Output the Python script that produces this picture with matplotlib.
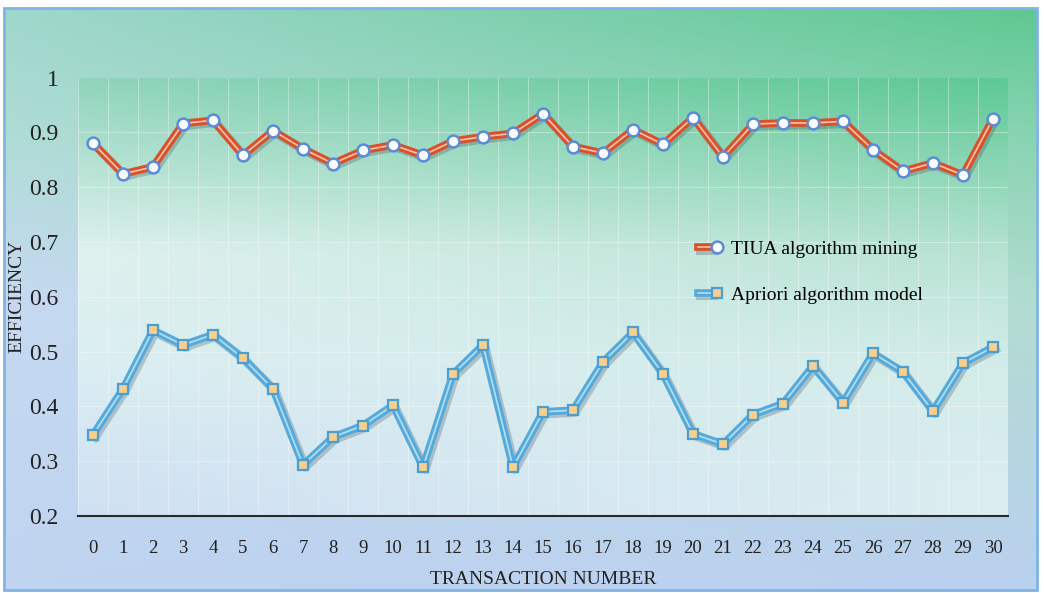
import numpy as np
import matplotlib
matplotlib.use("Agg")
import matplotlib.pyplot as plt
import matplotlib.patheffects as pe
from matplotlib.colors import to_rgb
from matplotlib.patches import FancyBboxPatch
from matplotlib.legend_handler import HandlerTuple

plt.rcParams["font.family"] = ["Liberation Serif", "DejaVu Serif"]

# データ
transactions = list(range(31))
tiua = [0.880, 0.824, 0.837, 0.916, 0.922, 0.858, 0.903, 0.870, 0.843, 0.867,
        0.877, 0.858, 0.884, 0.892, 0.898, 0.934, 0.874, 0.862, 0.905, 0.878,
        0.927, 0.855, 0.915, 0.917, 0.917, 0.920, 0.868, 0.829, 0.844, 0.822,
        0.925]
apriori = [0.348, 0.432, 0.539, 0.512, 0.531, 0.488, 0.432, 0.293, 0.344, 0.365,
           0.402, 0.289, 0.459, 0.512, 0.289, 0.390, 0.393, 0.481, 0.535, 0.459,
           0.350, 0.331, 0.385, 0.405, 0.474, 0.407, 0.497, 0.463, 0.391, 0.479,
           0.508]
y_ticks = [0.2, 0.3, 0.4, 0.5, 0.6, 0.7, 0.8, 0.9, 1.0]
y_ticklabels = ["0.2", "0.3", "0.4", "0.5", "0.6", "0.7", "0.8", "0.9", "1"]

W, H = 1044, 593


def gradient(rows, nx=200, ny=200):
    """rows: [(y, left_color, right_color), ...] y は 0 (下) 〜 1 (上)。"""
    ys = np.array([r[0] for r in rows])
    left = np.array([to_rgb(r[1]) for r in rows])
    right = np.array([to_rgb(r[2]) for r in rows])
    yy = np.linspace(1, 0, ny)
    xx = np.linspace(0, 1, nx)
    img = np.zeros((ny, nx, 3))
    for c in range(3):
        lc = np.interp(yy, ys, left[:, c])
        rc = np.interp(yy, ys, right[:, c])
        img[:, :, c] = lc[:, None] * (1 - xx[None, :]) + rc[:, None] * xx[None, :]
    return img


fig = plt.figure(figsize=(W / 100, H / 100), dpi=100)
fig.patch.set_facecolor("white")

# 外枠の背景
bx0, by0, bx1, by1 = 4, 3, 1037, 585   # pixels from bottom-left
ax_bg = fig.add_axes([bx0 / W, by0 / H, (bx1 - bx0) / W, (by1 - by0) / H], zorder=0)
ax_bg.imshow(gradient([(0.0, "#c0d4f1", "#bad0ef"),
                       (0.5, "#c6d9f2", "#b2dcd0"),
                       (0.78, "#b0dcd6", "#88d4b2"),
                       (1.0, "#9fd7cc", "#5ec891")]),
             extent=[0, 1, 0, 1], aspect="auto", interpolation="bilinear")
ax_bg.set_xlim(0, 1)
ax_bg.set_ylim(0, 1)
ax_bg.axis("off")
fig.patches.append(FancyBboxPatch((bx0 / W, by0 / H), (bx1 - bx0) / W, (by1 - by0) / H,
                                  boxstyle="square,pad=0", transform=fig.transFigure,
                                  fill=False, edgecolor="#7fb4e4", lw=2.0, zorder=1))

# プロット領域
pos = [78 / W, 77 / H, 930 / W, 438.5 / H]
ax_pl = fig.add_axes(pos, zorder=1)
ax_pl.imshow(gradient([(0.0, "#cfe0f3", "#dcedf1"),
                       (0.35, "#dbeef2", "#d2ece9"),
                       (0.6, "#dff1ee", "#b6e2d2"),
                       (1.0, "#8fd4bb", "#5cc993")]),
             extent=[0, 1, 0, 1], aspect="auto", interpolation="bilinear")
ax_pl.set_xlim(0, 1)
ax_pl.set_ylim(0, 1)
ax_pl.axis("off")

ax = fig.add_axes(pos, zorder=2)
ax.set_facecolor("none")

shadow = pe.SimpleLineShadow(offset=(1.5, -1.5), shadow_color="#304050", alpha=0.25, linewidth=6.5)

# TIUA (赤の二重線 + 白丸)
l1, = ax.plot(transactions, tiua, color="#fbc4ac", lw=1.2, solid_joinstyle="round", zorder=3,
              path_effects=[shadow, pe.Stroke(linewidth=5.5, foreground="#d9502a"), pe.Normal()])
m1, = ax.plot(transactions, tiua, ls="none", marker="o", ms=8.5, mfc="#fbfcff",
              mec="#5b8bd8", mew=1.8, zorder=4)

# Apriori (青の二重線 + オレンジの四角)
l2, = ax.plot(transactions, apriori, color="#b4e0f6", lw=1.2, solid_joinstyle="round", zorder=3,
              path_effects=[shadow, pe.Stroke(linewidth=5.5, foreground="#56aadb"), pe.Normal()])
m2, = ax.plot(transactions, apriori, ls="none", marker="s", ms=7.5, mfc="#f8cf8e",
              mec="#4a9fd2", mew=1.6, zorder=4)

ax.set_xlim(-0.5, 30.5)
ax.set_ylim(0.2, 1.0)
ax.set_xticks(transactions)
ax.set_xticklabels([str(t) for t in transactions], fontsize=13.5)
ax.set_yticks(y_ticks)
ax.set_yticklabels(y_ticklabels, fontsize=17)
ax.tick_params(axis="x", length=0, pad=17, colors="#222222")
ax.tick_params(axis="y", length=0, pad=14, colors="#222222")

# グリッド (白い細線, カテゴリ境界)
for xv in np.arange(-0.5, 31, 1.0):
    ax.axvline(xv, color="white", lw=0.8, alpha=0.35, zorder=1)
for yv in y_ticks[1:-1]:
    ax.axhline(yv, color="white", lw=0.8, alpha=0.35, zorder=1)

for s in ["top", "right", "left"]:
    ax.spines[s].set_visible(False)
ax.spines["bottom"].set_color("#2a2a2a")
ax.spines["bottom"].set_linewidth(1.5)

ax.set_xlabel("TRANSACTION NUMBER", fontsize=14, color="#222222")
ax.xaxis.set_label_coords(0.5, -0.125)
ax.set_ylabel("EFFICIENCY", fontsize=14, color="#222222")
ax.yaxis.set_label_coords(-0.057, 0.5)

ax.legend([(l1, m1), (l2, m2)], ["TIUA algorithm mining", "Apriori algorithm model"],
          handler_map={tuple: HandlerTuple(ndivide=None)},
          loc="upper left", bbox_to_anchor=(0.667, 0.628), frameon=False,
          fontsize=14, labelspacing=1.45, handlelength=1.3, handletextpad=0.4,
          borderpad=0, borderaxespad=0)

fig.savefig("out.png", dpi=100)
